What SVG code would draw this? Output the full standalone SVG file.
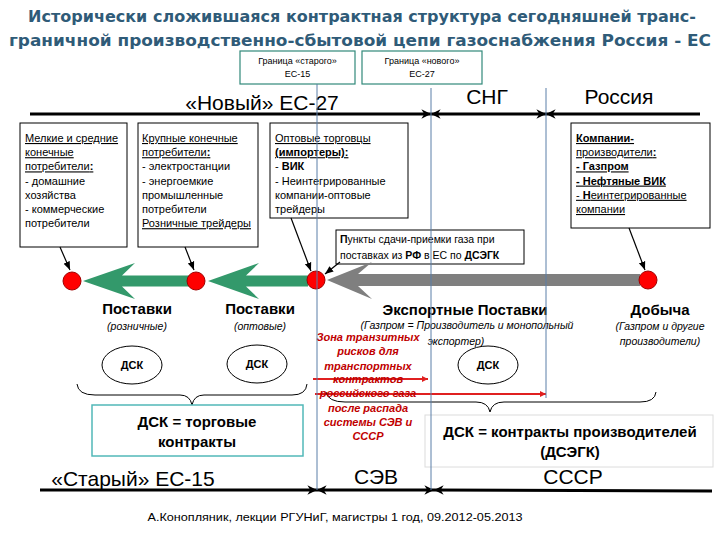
<svg xmlns="http://www.w3.org/2000/svg" width="720" height="540" viewBox="0 0 720 540">
<defs>
<style>
.t{font-family:"Liberation Sans",Arial,sans-serif;fill:#000}
.bx{fill:#fff;stroke:#000;stroke-width:1}
.bt{font-size:11px}
.u{text-decoration:underline}
.b{font-weight:bold}
.big{font-size:21px}
.lbl{font-size:15px;font-weight:bold;text-anchor:middle}
.it{font-size:10.5px;font-style:italic;text-anchor:middle}
.red{font-size:11px;font-style:italic;font-weight:bold;fill:#c00000;text-anchor:middle}
.dot{fill:#ff0000;stroke:#a00000;stroke-width:1}
.vl{stroke:#5a7fa8;stroke-width:1;fill:none}
.ax{stroke:#000;stroke-width:3;fill:none}
.cn{stroke:#000;stroke-width:1.2;fill:none}
.rl{stroke:#e02020;stroke-width:2;fill:none}
.br{stroke:#000;stroke-width:1;fill:none}
.el{fill:#fff;stroke:#000;stroke-width:1}
</style>
<marker id="ah" viewBox="0 0 10 10" refX="10" refY="5" markerWidth="3.2" markerHeight="3.2" orient="auto-start-reverse">
<path d="M0,0 L10,5 L0,10 L3,5 z" fill="#000"/>
</marker>
<marker id="sa" viewBox="0 0 10 10" refX="10" refY="5" markerWidth="7" markerHeight="7" orient="auto">
<path d="M0,1 L10,5 L0,9 z" fill="#000"/>
</marker>
<marker id="ra" viewBox="0 0 10 10" refX="10" refY="5" markerWidth="3" markerHeight="3" orient="auto">
<path d="M0,0 L10,5 L0,10 z" fill="#e02020"/>
</marker>
</defs>
<rect width="720" height="540" fill="#fff"/>

<g id="title" font-family="DejaVu Sans,Verdana,sans-serif" font-weight="bold" font-size="15.5" fill="#2f5b78" text-anchor="middle">
<text x="362" y="22" textLength="668" lengthAdjust="spacingAndGlyphs">Исторически сложившаяся контрактная структура сегодняшней транс-</text>
<text x="360" y="46" textLength="702" lengthAdjust="spacingAndGlyphs">граничной производственно-сбытовой цепи газоснабжения Россия - ЕС</text>
</g>

<g id="border-old">
<rect x="240" y="51" width="115" height="33" fill="#fff" stroke="#31897a" stroke-width="1.2"/>
<text class="t" x="297.5" y="64" font-size="9" text-anchor="middle">Граница «старого»</text>
<text class="t" x="297.5" y="77" font-size="9" text-anchor="middle">ЕС-15</text>
</g>
<g id="border-new">
<rect x="362" y="51" width="120" height="33" fill="#fff" stroke="#31897a" stroke-width="1.2"/>
<text class="t" x="422" y="64" font-size="9" text-anchor="middle">Граница «нового»</text>
<text class="t" x="422" y="77" font-size="9" text-anchor="middle">ЕС-27</text>
</g>

<g id="region-labels-top">
<text class="t big" x="262" y="110" text-anchor="middle">«Новый» ЕС-27</text>
<text class="t big" x="487" y="104" text-anchor="middle">СНГ</text>
<text class="t big" x="619" y="104" text-anchor="middle">Россия</text>
</g>

<g id="box-small">
<rect class="bx" x="20" y="123" width="107" height="124"/>
<text class="t bt" x="25"><tspan x="25" y="142" class="u">Мелкие и средние</tspan><tspan x="25" y="156.2" class="u">конечные</tspan><tspan x="25" y="170.4" class="u">потребители<tspan class="b">:</tspan></tspan><tspan x="25" y="184.6">- домашние</tspan><tspan x="25" y="198.8">хозяйства</tspan><tspan x="25" y="213">- коммерческие</tspan><tspan x="25" y="227.2">потребители</tspan></text>
</g>
<g id="box-large">
<rect class="bx" x="138" y="123" width="120" height="124"/>
<text class="t bt"><tspan x="142" y="142" class="u">Крупные конечные</tspan><tspan x="142" y="156.2" class="u">потребители<tspan class="b">:</tspan></tspan><tspan x="142" y="170.4">- электростанции</tspan><tspan x="142" y="184.6">- энергоемкие</tspan><tspan x="142" y="198.8">промышленные</tspan><tspan x="142" y="213">потребители</tspan><tspan x="142" y="227.2" class="u">Розничные трейдеры</tspan></text>
</g>
<g id="box-wholesale">
<rect class="bx" x="270" y="123" width="138" height="95"/>
<text class="t bt"><tspan x="275" y="142" class="u">Оптовые торговцы</tspan><tspan x="275" y="156.2" class="u b">(импортеры):</tspan><tspan x="275" y="170.4">- <tspan class="b">ВИК</tspan></tspan><tspan x="275" y="184.6">- Неинтегрированные</tspan><tspan x="275" y="198.8">компании-оптовые</tspan><tspan x="275" y="213">трейдеры</tspan></text>
</g>
<g id="box-points">
<rect class="bx" x="336" y="230" width="188" height="34"/>
<text class="t" font-size="10.5"><tspan x="340" y="243"><tspan class="b">П</tspan>ункты сдачи-приемки газа при</tspan><tspan x="340" y="259">поставках из <tspan class="b">РФ</tspan> в ЕС по <tspan class="b">ДСЭГК</tspan></tspan></text>
</g>
<g id="box-producers">
<rect class="bx" x="571" y="123" width="139" height="105"/>
<text class="t bt"><tspan x="576" y="142" class="u b">Компании-</tspan><tspan x="576" y="156.2" class="u">производители<tspan class="b">:</tspan></tspan><tspan x="576" y="170.4" class="u b">- Газпром</tspan><tspan x="576" y="184.6" class="u b">- Нефтяные ВИК</tspan><tspan x="576" y="198.8" class="u">- <tspan class="b">Н</tspan>еинтегрированные</tspan><tspan x="576" y="213" class="u">компании</tspan></text>
</g>

<g id="flows">
<path d="M327,280 L372,262 L358,274 L640,274 L640,286 L358,286 L372,299 Z" fill="#7f7f7f"/>
<path d="M208,281 L259,263 L246,275.5 L308,275.5 L308,286.5 L246,286.5 L259,299 Z" fill="#33996b"/>
<path d="M83,281 L135,263 L122,275.5 L190,275.5 L190,286.5 L122,286.5 L135,299 Z" fill="#33996b"/>
</g>

<g id="nodes">
<circle class="dot" cx="72" cy="281" r="9"/>
<circle class="dot" cx="196" cy="281" r="9"/>
<circle class="dot" cx="316" cy="280" r="9"/>
<circle class="dot" cx="648" cy="280" r="9"/>
</g>

<g id="connectors">
<line class="cn" x1="60" y1="247" x2="70" y2="270" marker-end="url(#sa)"/>
<line class="cn" x1="185" y1="247" x2="194" y2="270" marker-end="url(#sa)"/>
<line class="cn" x1="291" y1="218" x2="311" y2="271" marker-end="url(#sa)"/>
<line class="cn" x1="340" y1="262" x2="325" y2="274" marker-end="url(#sa)"/>
<line class="cn" x1="629" y1="228" x2="645" y2="270" marker-end="url(#sa)"/>
<line class="ax" x1="30" y1="114" x2="431" y2="114" marker-end="url(#ah)"/>
<line class="ax" x1="431" y1="114" x2="546" y2="114" marker-start="url(#ah)" marker-end="url(#ah)"/>
<line class="ax" x1="546" y1="114" x2="700" y2="114" marker-start="url(#ah)"/>
<line class="ax" x1="40" y1="490" x2="317" y2="490" marker-end="url(#ah)"/>
<line class="ax" x1="317" y1="490" x2="434" y2="490" marker-start="url(#ah)" marker-end="url(#ah)"/>
<line class="ax" x1="434" y1="490" x2="712" y2="491" marker-start="url(#ah)" stroke-width="3.5"/>
<line class="rl" x1="313" y1="379" x2="428" y2="379" marker-end="url(#ra)"/>
<line class="rl" x1="315" y1="394" x2="546" y2="394" marker-end="url(#ra)"/>
<path class="br" d="M77,384 Q78,395 95,395 L180,395 Q190,395 192,405 Q194,395 204,395 L292,395 Q306,395 307,384"/>
<path class="br" d="M326,392 Q328,402 345,402 L476,402 Q488,402 490,412 Q492,402 504,402 L640,402 Q655,402 656,392"/>
</g>

<g id="labels-mid">
<text class="t lbl" x="137" y="314">Поставки</text>
<text class="t it" x="137" y="330">(розничные)</text>
<text class="t lbl" x="260" y="314">Поставки</text>
<text class="t it" x="260" y="330">(оптовые)</text>
<text class="t lbl" x="465" y="315">Экспортные Поставки</text>
<text class="t it" x="467" y="329">(Газпром = Производитель и монопольный</text>
<text class="t it" x="456" y="345">экспортер)</text>
<text class="t lbl" x="660" y="315">Добыча</text>
<text class="t it" x="660" y="330">(Газпром и другие</text>
<text class="t it" x="660" y="345">производители)</text>
</g>

<g id="dsk1"><ellipse class="el" cx="132" cy="365" rx="30" ry="19"/><text class="t" x="132" y="369" font-size="11" font-weight="bold" text-anchor="middle">ДСК</text></g>
<g id="dsk2"><ellipse class="el" cx="257" cy="364" rx="30" ry="19"/><text class="t" x="257" y="368" font-size="11" font-weight="bold" text-anchor="middle">ДСК</text></g>
<g id="dsk3"><ellipse class="el" cx="488" cy="365" rx="30" ry="19"/><text class="t" x="488" y="369" font-size="11" font-weight="bold" text-anchor="middle">ДСК</text></g>

<g id="transit-zone">
<text class="t red"><tspan x="368" y="341">Зона транзитных</tspan><tspan x="368" y="355">рисков для</tspan><tspan x="368" y="369.5">транспортных</tspan><tspan x="368" y="383">контрактов</tspan><tspan x="368" y="397">российского газа</tspan><tspan x="368" y="412">после распада</tspan><tspan x="368" y="426">системы СЭВ и</tspan><tspan x="368" y="440">СССР</tspan></text>
</g>

<g id="trade-contracts">
<rect x="92" y="405" width="211" height="51" fill="#fff" stroke="#52b8b8" stroke-width="1.5"/>
<text class="t" x="197" y="427" font-size="15" font-weight="bold" text-anchor="middle">ДСК = торговые</text>
<text class="t" x="197" y="447" font-size="15" font-weight="bold" text-anchor="middle">контракты</text>
</g>
<g id="producer-contracts">
<rect x="425" y="415" width="288" height="52" fill="#fff" stroke="#dcdcdc" stroke-width="1"/>
<text class="t" x="570" y="437" font-size="15" font-weight="bold" text-anchor="middle">ДСК = контракты производителей</text>
<text class="t" x="570" y="457" font-size="15" font-weight="bold" text-anchor="middle">(ДСЭГК)</text>
</g>

<g id="region-labels-bottom">
<text class="t big" x="133" y="486" text-anchor="middle">«Старый» ЕС-15</text>
<text class="t big" x="376" y="484" text-anchor="middle">СЭВ</text>
<text class="t big" x="573" y="484" text-anchor="middle">СССР</text>
</g>

<g id="dividers">
<line class="vl" x1="317" y1="84" x2="317" y2="490"/>
<line class="vl" x1="431" y1="88" x2="431" y2="490"/>
<line class="vl" x1="546" y1="88" x2="546" y2="398"/>
</g>

<text class="t" x="335" y="521" font-size="11" fill="#333" text-anchor="middle" textLength="375" lengthAdjust="spacingAndGlyphs">А.Конопляник, лекции РГУНиГ, магистры 1 год, 09.2012-05.2013</text>
</svg>
